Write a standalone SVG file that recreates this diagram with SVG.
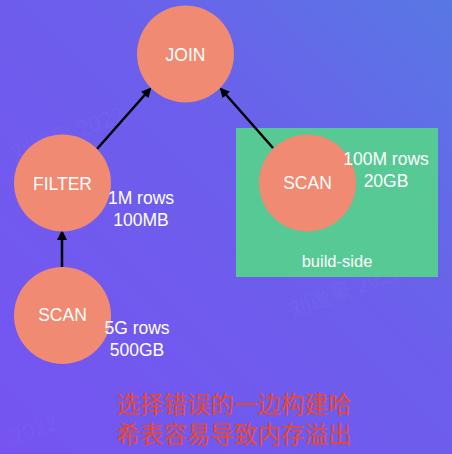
<svg xmlns="http://www.w3.org/2000/svg" width="452" height="454" viewBox="0 0 452 454">
<defs>
<linearGradient id="bg" x1="0" y1="1" x2="1" y2="0">
<stop offset="0" stop-color="#7654F1"/>
<stop offset="0.6" stop-color="#6C5FEC"/>
<stop offset="1" stop-color="#5878E4"/>
</linearGradient>
<marker id="ah" markerWidth="10" markerHeight="10" refX="8" refY="5" orient="auto" markerUnits="userSpaceOnUse">
<path d="M0,0 L10,5 L0,10 Z" fill="#000"/>
</marker>
<style>
.node{fill:#F08A72}
.lbl{font-family:"Liberation Sans",Arial,sans-serif;font-size:17.5px;fill:#fff;text-anchor:middle}
.ann{font-family:"Liberation Sans",Arial,sans-serif;font-size:17.5px;fill:#fff;text-anchor:middle}
.edge{stroke:#000;stroke-width:2.5;fill:none;marker-end:url(#ah)}
.wm{font-family:"Noto Sans CJK SC",sans-serif;font-size:22px;fill:#fff;fill-opacity:0.04}
.cn{font-family:"Noto Sans CJK SC",sans-serif;font-size:23.5px;fill:#E8482E;text-anchor:middle}
</style>
</defs>
<rect width="452" height="454" fill="url(#bg)"/>
<g id="watermarks">
<text class="wm" x="14" y="162" transform="rotate(-20 14 162)">刘逸豪 2022</text>
<text class="wm" x="292" y="318" transform="rotate(-20 292 318)">刘逸豪 2022</text>
<text class="wm" x="14" y="445" transform="rotate(-20 14 445)">2022</text>
</g>
<g id="build-side">
<rect x="236" y="128" width="202" height="149" fill="#57C994"/>
<text class="ann" x="337" y="267" style="font-size:16.5px">build-side</text>
</g>
<g id="connectors">
<line class="edge" x1="97" y1="149" x2="150" y2="89"/>
<line class="edge" x1="273" y1="148" x2="221" y2="89"/>
<line class="edge" x1="62" y1="267" x2="62" y2="232"/>
</g>
<g id="join">
<circle class="node" cx="185.5" cy="54" r="48.5"/>
<text class="lbl" x="185.5" y="61">JOIN</text>
</g>
<g id="filter">
<circle class="node" cx="62.5" cy="183" r="48.5"/>
<text class="lbl" x="62.5" y="190">FILTER</text>
<text class="ann" x="141" y="204">1M rows</text>
<text class="ann" x="141" y="226">100MB</text>
</g>
<g id="scan-right">
<circle class="node" cx="307.5" cy="183" r="48.5"/>
<text class="lbl" x="307.5" y="189">SCAN</text>
<text class="ann" x="386" y="165">100M rows</text>
<text class="ann" x="386" y="187">20GB</text>
</g>
<g id="scan-left">
<circle class="node" cx="62.5" cy="315.5" r="48.5"/>
<text class="lbl" x="62.5" y="321">SCAN</text>
<text class="ann" x="137" y="334">5G rows</text>
<text class="ann" x="137" y="356">500GB</text>
</g>
<g id="note">
<text class="cn" x="234" y="413">选择错误的一边构建哈</text>
<text class="cn" x="234" y="443">希表容易导致内存溢出</text>
</g>
</svg>
